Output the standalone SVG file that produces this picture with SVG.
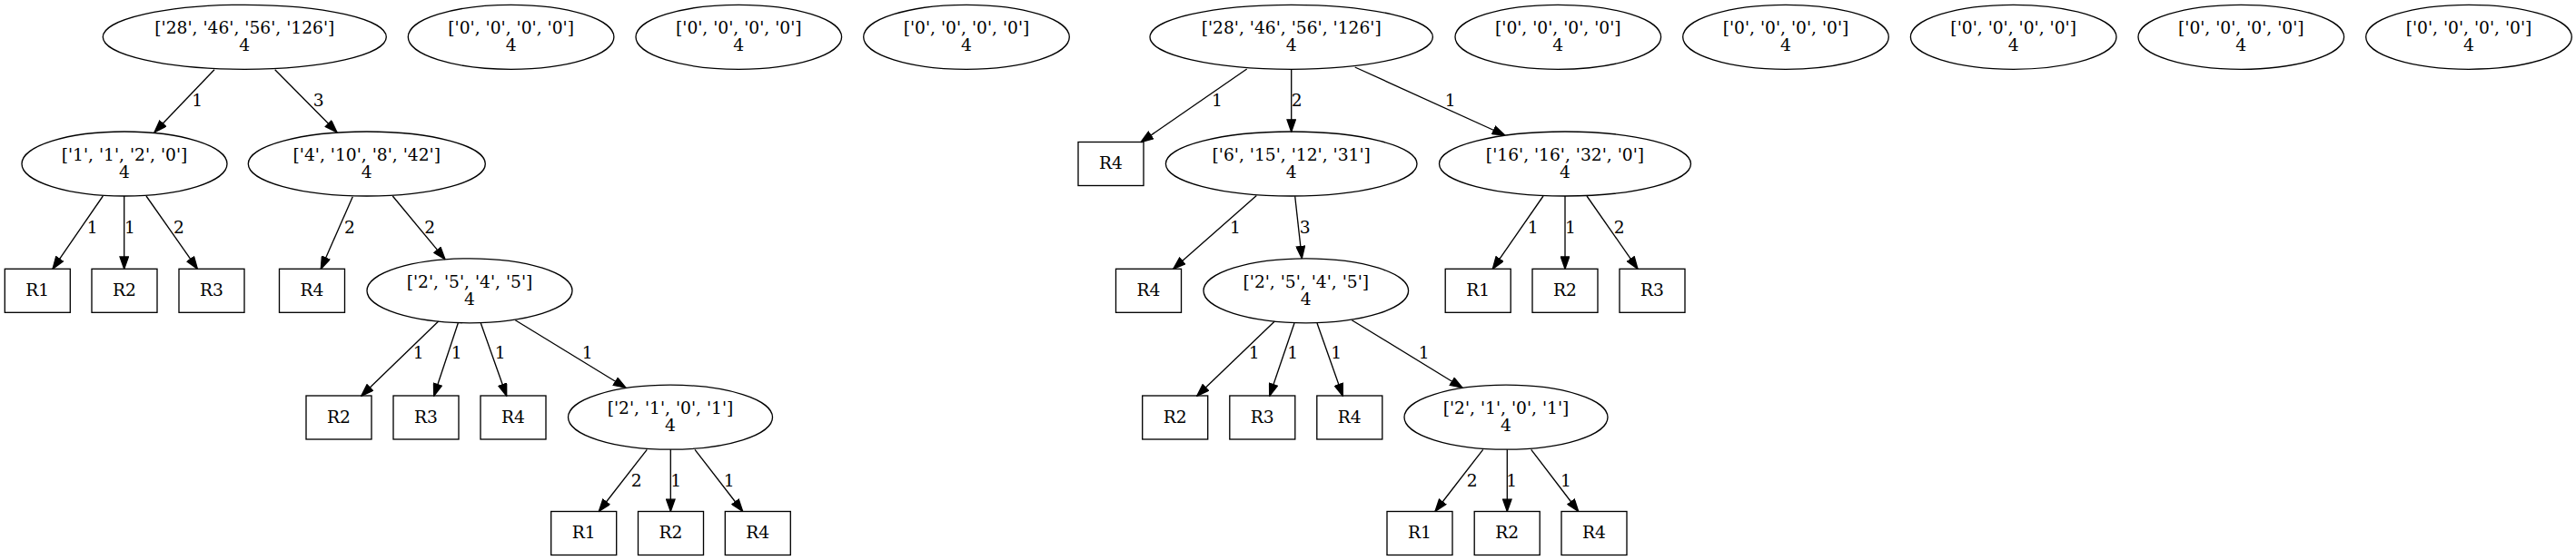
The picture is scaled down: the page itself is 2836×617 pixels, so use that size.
<svg xmlns="http://www.w3.org/2000/svg" width="2836" height="617" viewBox="0 0 2836 617">
<style>
text{font-family:"DejaVu Serif","Liberation Serif",serif;font-size:18.67px;fill:#000;text-anchor:middle}
.n ellipse,.n rect{fill:none;stroke:#000;stroke-width:1.33}
#edges line{stroke:#000;stroke-width:1.33;marker-end:url(#ah)}
</style>
<defs>
<marker id="ah" viewBox="-0.5 -0.5 11 8" refX="10" refY="3.5" markerWidth="14.67" markerHeight="10.67" markerUnits="userSpaceOnUse" orient="auto">
<path d="M0,0 L10,3.5 L0,7 z" fill="#000" stroke="#000" stroke-width="1" stroke-linejoin="miter"/>
</marker>
</defs>
<rect width="2836" height="617" fill="#fff"/>
<g id="nodes">
<g id="A" class="n"><ellipse cx="269.3" cy="40.8" rx="156" ry="35.5"/><text x="269.3" y="37.3">['28', '46', '56', '126']</text><text x="269.3" y="56.3">4</text></g>
<g id="Z1" class="n"><ellipse cx="562.6" cy="40.8" rx="113.3" ry="35.5"/><text x="562.6" y="37.3">['0', '0', '0', '0']</text><text x="562.6" y="56.3">4</text></g>
<g id="Z2" class="n"><ellipse cx="813.3" cy="40.8" rx="113.3" ry="35.5"/><text x="813.3" y="37.3">['0', '0', '0', '0']</text><text x="813.3" y="56.3">4</text></g>
<g id="Z3" class="n"><ellipse cx="1064" cy="40.8" rx="113.3" ry="35.5"/><text x="1064" y="37.3">['0', '0', '0', '0']</text><text x="1064" y="56.3">4</text></g>
<g id="N1" class="n"><ellipse cx="137" cy="180.5" rx="113" ry="35.5"/><text x="137" y="177">['1', '1', '2', '0']</text><text x="137" y="196">4</text></g>
<g id="N2" class="n"><ellipse cx="403.8" cy="180.5" rx="130.5" ry="35.5"/><text x="403.8" y="177">['4', '10', '8', '42']</text><text x="403.8" y="196">4</text></g>
<g id="LR1" class="n"><rect x="5.3" y="296.3" width="72" height="48"/><text x="41.3" y="326.1">R1</text></g>
<g id="LR2" class="n"><rect x="101" y="296.3" width="72" height="48"/><text x="137" y="326.1">R2</text></g>
<g id="LR3" class="n"><rect x="197" y="296.3" width="72" height="48"/><text x="233" y="326.1">R3</text></g>
<g id="LR4" class="n"><rect x="307.5" y="296.3" width="72" height="48"/><text x="343.5" y="326.1">R4</text></g>
<g id="N3" class="n"><ellipse cx="517" cy="320.3" rx="113" ry="35.5"/><text x="517" y="316.8">['2', '5', '4', '5']</text><text x="517" y="335.8">4</text></g>
<g id="LR2b" class="n"><rect x="337" y="436" width="72" height="48"/><text x="373" y="465.8">R2</text></g>
<g id="LR3b" class="n"><rect x="433" y="436" width="72" height="48"/><text x="469" y="465.8">R3</text></g>
<g id="LR4b" class="n"><rect x="529" y="436" width="72" height="48"/><text x="565" y="465.8">R4</text></g>
<g id="N4" class="n"><ellipse cx="738" cy="459.7" rx="112.5" ry="35.5"/><text x="738" y="456.2">['2', '1', '0', '1']</text><text x="738" y="475.2">4</text></g>
<g id="LR1c" class="n"><rect x="606.7" y="563.5" width="72" height="48"/><text x="642.7" y="593.3">R1</text></g>
<g id="LR2c" class="n"><rect x="702.5" y="563.5" width="72" height="48"/><text x="738.5" y="593.3">R2</text></g>
<g id="LR4c" class="n"><rect x="798.3" y="563.5" width="72" height="48"/><text x="834.3" y="593.3">R4</text></g>

<g id="B" class="n"><ellipse cx="1421.7" cy="40.8" rx="155.7" ry="35.5"/><text x="1421.7" y="37.3">['28', '46', '56', '126']</text><text x="1421.7" y="56.3">4</text></g>
<g id="Z4" class="n"><ellipse cx="1715.3" cy="40.8" rx="113.3" ry="35.5"/><text x="1715.3" y="37.3">['0', '0', '0', '0']</text><text x="1715.3" y="56.3">4</text></g>
<g id="Z5" class="n"><ellipse cx="1966" cy="40.8" rx="113.3" ry="35.5"/><text x="1966" y="37.3">['0', '0', '0', '0']</text><text x="1966" y="56.3">4</text></g>
<g id="Z6" class="n"><ellipse cx="2216.7" cy="40.8" rx="113.3" ry="35.5"/><text x="2216.7" y="37.3">['0', '0', '0', '0']</text><text x="2216.7" y="56.3">4</text></g>
<g id="Z7" class="n"><ellipse cx="2467.3" cy="40.8" rx="113.3" ry="35.5"/><text x="2467.3" y="37.3">['0', '0', '0', '0']</text><text x="2467.3" y="56.3">4</text></g>
<g id="Z8" class="n"><ellipse cx="2718" cy="40.8" rx="113.3" ry="35.5"/><text x="2718" y="37.3">['0', '0', '0', '0']</text><text x="2718" y="56.3">4</text></g>
<g id="RR4a" class="n"><rect x="1187" y="156.5" width="72" height="48"/><text x="1223" y="186.3">R4</text></g>
<g id="N5" class="n"><ellipse cx="1421.7" cy="180.5" rx="138.3" ry="35.5"/><text x="1421.7" y="177">['6', '15', '12', '31']</text><text x="1421.7" y="196">4</text></g>
<g id="N6" class="n"><ellipse cx="1723" cy="180.5" rx="138.5" ry="35.5"/><text x="1723" y="177">['16', '16', '32', '0']</text><text x="1723" y="196">4</text></g>
<g id="RR4b" class="n"><rect x="1228.5" y="296.3" width="72" height="48"/><text x="1264.5" y="326.1">R4</text></g>
<g id="N7" class="n"><ellipse cx="1437.8" cy="320.3" rx="112.8" ry="35.5"/><text x="1437.8" y="316.8">['2', '5', '4', '5']</text><text x="1437.8" y="335.8">4</text></g>
<g id="RR1" class="n"><rect x="1591.2" y="296.3" width="72" height="48"/><text x="1627.2" y="326.1">R1</text></g>
<g id="RR2" class="n"><rect x="1687" y="296.3" width="72" height="48"/><text x="1723" y="326.1">R2</text></g>
<g id="RR3" class="n"><rect x="1783" y="296.3" width="72" height="48"/><text x="1819" y="326.1">R3</text></g>
<g id="RR2c" class="n"><rect x="1257.7" y="436" width="72" height="48"/><text x="1293.7" y="465.8">R2</text></g>
<g id="RR3c" class="n"><rect x="1353.8" y="436" width="72" height="48"/><text x="1389.8" y="465.8">R3</text></g>
<g id="RR4c" class="n"><rect x="1449.8" y="436" width="72" height="48"/><text x="1485.8" y="465.8">R4</text></g>
<g id="N8" class="n"><ellipse cx="1658" cy="459.7" rx="112" ry="35.5"/><text x="1658" y="456.2">['2', '1', '0', '1']</text><text x="1658" y="475.2">4</text></g>
<g id="RR1d" class="n"><rect x="1527" y="563.5" width="72" height="48"/><text x="1563" y="593.3">R1</text></g>
<g id="RR2d" class="n"><rect x="1623.2" y="563.5" width="72" height="48"/><text x="1659.2" y="593.3">R2</text></g>
<g id="RR4d" class="n"><rect x="1719" y="563.5" width="72" height="48"/><text x="1755" y="593.3">R4</text></g>
</g>

<g id="edges">
<line x1="236" y1="76.7" x2="170" y2="145.7"/><text x="217.3" y="116.7">1</text>
<line x1="302.7" y1="76.7" x2="371" y2="145.7"/><text x="350.7" y="116.7">3</text>
<line x1="113.3" y1="216" x2="58" y2="296.3"/><text x="101.8" y="256.7">1</text>
<line x1="136.7" y1="216" x2="136.7" y2="296.3"/><text x="143" y="256.7">1</text>
<line x1="161" y1="216" x2="217.4" y2="296.3"/><text x="197" y="256.7">2</text>
<line x1="388.3" y1="216.7" x2="353.3" y2="296.3"/><text x="385" y="256.7">2</text>
<line x1="432.3" y1="216" x2="490" y2="285.7"/><text x="473.3" y="256.7">2</text>
<line x1="482.7" y1="354" x2="397.7" y2="436.3"/><text x="460.7" y="395">1</text>
<line x1="504.3" y1="356" x2="477.7" y2="436.3"/><text x="502.7" y="395">1</text>
<line x1="529.3" y1="356" x2="557.7" y2="436.3"/><text x="550.7" y="395">1</text>
<line x1="567.3" y1="352.7" x2="689" y2="427.3"/><text x="646.7" y="395">1</text>
<line x1="712.3" y1="495.3" x2="659.3" y2="563.5"/><text x="700.7" y="535.7">2</text>
<line x1="738.3" y1="495.3" x2="738.3" y2="563.5"/><text x="744.3" y="535.7">1</text>
<line x1="765" y1="495.3" x2="817.7" y2="563.5"/><text x="802.7" y="535.7">1</text>

<line x1="1372.7" y1="76" x2="1256" y2="156.7"/><text x="1340" y="116.7">1</text>
<line x1="1421.7" y1="76.7" x2="1421.7" y2="145.2"/><text x="1427.7" y="116.7">2</text>
<line x1="1491.7" y1="74" x2="1656.7" y2="149"/><text x="1596.7" y="116.7">1</text>
<line x1="1383.3" y1="215.5" x2="1291.7" y2="296.3"/><text x="1360" y="256.7">1</text>
<line x1="1425.7" y1="216.2" x2="1433.3" y2="284.8"/><text x="1436.7" y="256.7">3</text>
<line x1="1699" y1="216" x2="1643.3" y2="296.3"/><text x="1687.7" y="256.7">1</text>
<line x1="1723" y1="216" x2="1723" y2="296.3"/><text x="1729" y="256.7">1</text>
<line x1="1747" y1="216" x2="1803" y2="296.3"/><text x="1782.7" y="256.7">2</text>
<line x1="1403.3" y1="354" x2="1317.7" y2="436.3"/><text x="1380.7" y="395">1</text>
<line x1="1425" y1="356" x2="1397.7" y2="436.3"/><text x="1423.3" y="395">1</text>
<line x1="1450" y1="356" x2="1478.3" y2="436.3"/><text x="1471.3" y="395">1</text>
<line x1="1488.3" y1="352.7" x2="1610" y2="427.3"/><text x="1567.7" y="395">1</text>
<line x1="1632.7" y1="495.3" x2="1580" y2="563.5"/><text x="1620.7" y="535.7">2</text>
<line x1="1659.3" y1="495.3" x2="1659.3" y2="563.5"/><text x="1664.3" y="535.7">1</text>
<line x1="1685.7" y1="495.3" x2="1737.7" y2="563.5"/><text x="1724" y="535.7">1</text>
</g>
</svg>
